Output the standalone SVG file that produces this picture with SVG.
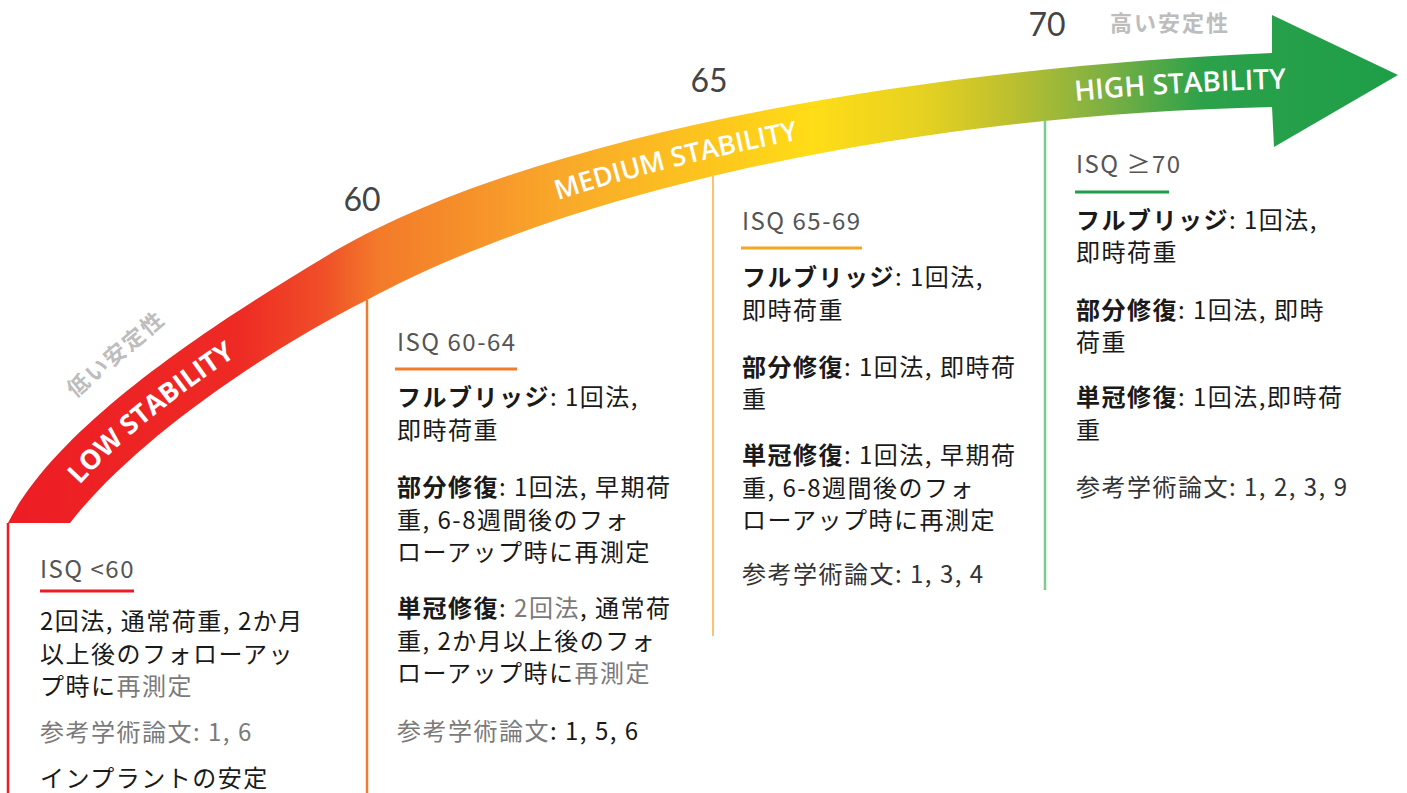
<svg xmlns="http://www.w3.org/2000/svg" xmlns:xlink="http://www.w3.org/1999/xlink" width="1407" height="793" viewBox="0 0 1407 793">
<defs>
<linearGradient id="bandGrad" gradientUnits="userSpaceOnUse" x1="0" y1="0" x2="1400" y2="0">
<stop offset="0" stop-color="#ED1C24"/>
<stop offset="0.17" stop-color="#EE2A24"/>
<stop offset="0.23" stop-color="#F04E28"/>
<stop offset="0.27" stop-color="#F37A2A"/>
<stop offset="0.40" stop-color="#F9A82A"/>
<stop offset="0.52" stop-color="#FDC91C"/>
<stop offset="0.58" stop-color="#FFDD17"/>
<stop offset="0.66" stop-color="#E6D121"/>
<stop offset="0.72" stop-color="#BEC02F"/>
<stop offset="0.79" stop-color="#7DB043"/>
<stop offset="0.86" stop-color="#2BA14A"/>
<stop offset="1" stop-color="#1E9E48"/>
</linearGradient>
<path id="bandBase" d="M49.5,523 C106,438 245,343 352,287 C547,175 907,99.5 1272,89 L1400,85"/>
</defs>
<style>
.band-label{font-family:"Open Sans","Noto Sans",sans-serif;fill:#ffffff;}
.num{font-family:Lato,"Open Sans",sans-serif;font-size:32px;fill:#444444;text-anchor:middle;}
.jlabel{font-family:"Noto Sans CJK JP","Noto Sans",sans-serif;font-weight:700;fill:#BDBDBD;letter-spacing:2px;}
.t{font-family:"Noto Sans CJK JP","Noto Sans",sans-serif;font-size:24px;letter-spacing:1.5px;fill:#1a1a1a;}
.isq{fill:#555555;letter-spacing:1.5px;}
.b{font-weight:700;}
.g{fill:#7a7a7a;}
.d{fill:#333333;}
</style>

<g id="stability-arrow">
<path d="M8,523 C58,423 220,320 320,260 C520,135 922,68 1272,53 L1272,15 L1398,75 L1274,147 L1272,107 C900,115 560,195 367,300 C257,355 130,445 70,523 Z" fill="url(#bandGrad)"/>
<text class="band-label" font-size="27" font-weight="700"><textPath xlink:href="#bandBase" href="#bandBase" startOffset="150" text-anchor="middle">LOW STABILITY</textPath></text>
<text class="band-label" font-size="27" font-weight="600"><textPath xlink:href="#bandBase" href="#bandBase" startOffset="735" text-anchor="middle">MEDIUM STABILITY</textPath></text>
<text class="band-label" font-size="28" font-weight="600"><textPath xlink:href="#bandBase" href="#bandBase" startOffset="1244" text-anchor="middle">HIGH STABILITY</textPath></text>
</g>

<g id="scale-labels">
<text class="num" x="362" y="211">60</text>
<text class="num" x="709" y="92">65</text>
<text class="num" x="1047" y="36">70</text>
<text class="jlabel" x="1110" y="31" font-size="22">高い安定性</text>
<text class="jlabel" x="0" y="0" font-size="22" text-anchor="middle" transform="translate(121,360) rotate(-40)">低い安定性</text>
</g>

<g id="connectors">
<line x1="8" y1="523" x2="8" y2="793" stroke="#ED1C24" stroke-width="2.5"/>
<line x1="367" y1="300" x2="367" y2="793" stroke="#F37B2B" stroke-width="2.5"/>
<line x1="713" y1="175" x2="713" y2="636" stroke="#F9C46B" stroke-width="2"/>
<line x1="1045" y1="120" x2="1045" y2="590" stroke="#7DCB93" stroke-width="2.5"/>
</g>

<g id="node-low">
<text class="t isq" x="40" y="578">ISQ &lt;60</text>
<rect x="40" y="589.5" width="94" height="3" fill="#ED1C24"/>
<text class="t" x="40" y="630">2回法, 通常荷重, 2か月</text>
<text class="t" x="40" y="663">以上後のフォローアッ</text>
<text class="t" x="40" y="695">プ時に<tspan class="g">再測定</tspan></text>
<text class="t g" x="40" y="741">参考学術論文: 1, 6</text>
<text class="t" x="40" y="787">インプラントの安定</text>
</g>

<g id="node-60-64">
<text class="t isq" x="397" y="351">ISQ 60-64</text>
<rect x="395" y="367.5" width="122" height="3" fill="#F37B2B"/>
<text class="t" x="397" y="406"><tspan class="b">フルブリッジ</tspan>: 1回法,</text>
<text class="t" x="397" y="439">即時荷重</text>
<text class="t" x="397" y="496"><tspan class="b">部分修復</tspan>: 1回法, 早期荷</text>
<text class="t" x="397" y="529">重, 6-8週間後のフォ</text>
<text class="t" x="397" y="561">ローアップ時に再測定</text>
<text class="t" x="397" y="617"><tspan class="b">単冠修復</tspan>: <tspan class="g">2回法</tspan>, 通常荷</text>
<text class="t" x="397" y="650">重, 2か月以上後のフォ</text>
<text class="t" x="397" y="682">ローアップ時に<tspan class="g">再測定</tspan></text>
<text class="t" x="397" y="740"><tspan class="g">参考学術論文</tspan>: 1, 5, 6</text>
</g>

<g id="node-65-69">
<text class="t isq" x="742" y="230">ISQ 65-69</text>
<rect x="741" y="246.5" width="121" height="3" fill="#F5A623"/>
<text class="t" x="742" y="286"><tspan class="b">フルブリッジ</tspan>: 1回法,</text>
<text class="t" x="742" y="319">即時荷重</text>
<text class="t" x="742" y="376"><tspan class="b">部分修復</tspan>: 1回法, 即時荷</text>
<text class="t" x="742" y="408">重</text>
<text class="t" x="742" y="464"><tspan class="b">単冠修復</tspan>: 1回法, 早期荷</text>
<text class="t" x="742" y="497">重, 6-8週間後のフォ</text>
<text class="t" x="742" y="529">ローアップ時に再測定</text>
<text class="t d" x="742" y="583">参考学術論文: 1, 3, 4</text>
</g>

<g id="node-70">
<text class="t isq" x="1076" y="173">ISQ ≥70</text>
<rect x="1075" y="190.5" width="94" height="3" fill="#1E9E48"/>
<text class="t" x="1076" y="229"><tspan class="b">フルブリッジ</tspan>: 1回法,</text>
<text class="t" x="1076" y="261">即時荷重</text>
<text class="t" x="1076" y="319"><tspan class="b">部分修復</tspan>: 1回法, 即時</text>
<text class="t" x="1076" y="351">荷重</text>
<text class="t" x="1076" y="406"><tspan class="b">単冠修復</tspan>: 1回法,即時荷</text>
<text class="t" x="1076" y="439">重</text>
<text class="t d" x="1076" y="496">参考学術論文: 1, 2, 3, 9</text>
</g>
</svg>
